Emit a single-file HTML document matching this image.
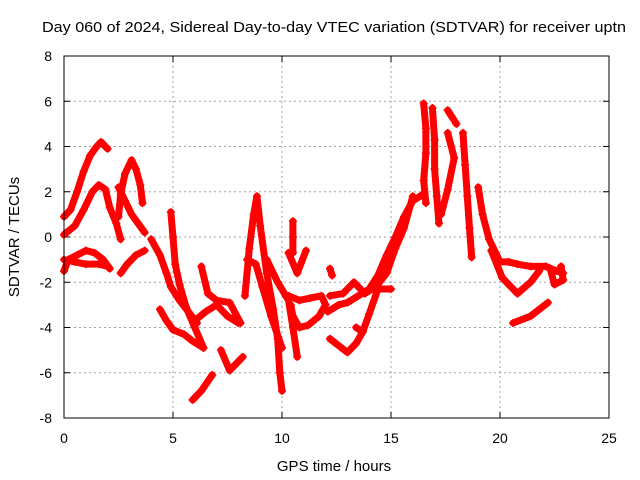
<!DOCTYPE html>
<html><head><meta charset="utf-8"><style>
body{margin:0;background:#fff}
svg{display:block;font-family:"Liberation Sans",sans-serif}
</style></head><body>
<svg id="c" width="640" height="480">
<rect width="640" height="480" fill="#fff"/>
<text x="42" y="32" font-size="15" textLength="584" lengthAdjust="spacingAndGlyphs" fill="#000">Day 060 of 2024, Sidereal Day-to-day VTEC variation (SDTVAR) for receiver uptn</text>
<text transform="translate(19,237) rotate(-90)" text-anchor="middle" font-size="15">SDTVAR / TECUs</text>
<text x="334" y="471" text-anchor="middle" font-size="15">GPS time / hours</text>
<g id="grid"></g>
<g id="ticks"></g>
<g id="marks"></g>
<rect x="64" y="56" width="545" height="362" fill="none" stroke="#000" stroke-width="1"/>
</svg>
<script>
const xTicks=[0,5,10,15,20,25];
const yTicks=[-8,-6,-4,-2,0,2,4,6,8];
const trackA=[[0,0.9],[0.3,1.2],[0.6,2.0],[0.9,2.9],[1.2,3.6],[1.5,4.0],[1.7,4.2],[2.0,3.9]];
const trackB=[[0,0.1],[0.5,0.5],[0.9,1.2],[1.3,2.0],[1.6,2.3],[1.9,2.1],[2.1,1.3],[2.4,0.6],[2.6,-0.1]];
const trackC=[[0,-1.5],[0.2,-1.0],[0.6,-0.8],[1.0,-0.6],[1.4,-0.7],[1.8,-1.0],[2.1,-1.4]];
const trackC2=[[0,-1.0],[0.5,-1.1],[1.0,-1.2],[1.6,-1.2],[2.0,-1.3]];
const trackD=[[2.5,0.9],[2.6,1.9],[2.8,2.8],[3.1,3.4],[3.3,3.0],[3.5,2.3],[3.6,1.5]];
const trackD2=[[2.5,2.2],[2.8,1.6],[3.1,1.0],[3.4,0.6],[3.7,0.2]];
const trackE=[[2.6,-1.6],[2.9,-1.2],[3.3,-0.8],[3.7,-0.6]];
const trackF1=[[4.0,-0.1],[4.4,-0.8],[4.7,-1.6],[4.9,-2.2],[5.3,-2.8],[5.7,-3.3],[6.1,-3.8]];
const trackF2=[[4.9,1.1],[5.0,0.0],[5.1,-1.2],[5.3,-2.1],[5.6,-3.1],[6.0,-4.0],[6.4,-4.9]];
const trackF3=[[4.4,-3.2],[4.7,-3.7],[5.0,-4.1],[5.5,-4.3],[5.9,-4.6],[6.4,-4.9]];
const trackF4=[[6.3,-1.3],[6.6,-2.5],[7.0,-2.8],[7.6,-2.9],[8.1,-3.8]];
const trackF5=[[6.0,-3.7],[6.5,-3.3],[7.0,-3.0],[7.5,-3.5],[8.0,-3.8]];
const trackF6=[[7.2,-5.0],[7.6,-5.9],[8.2,-5.3]];
const trackF7=[[5.9,-7.2],[6.3,-6.8],[6.8,-6.1]];
const trackG1=[[8.3,-2.6],[8.5,-0.5],[8.7,1.0],[8.85,1.8],[9.0,0.5],[9.3,-1.6],[9.6,-3.2],[9.8,-4.5],[9.9,-6.0],[10.0,-6.8]];
const trackG2=[[8.4,-1.0],[8.8,-1.2],[9.1,-2.2],[9.5,-3.5],[10.0,-4.9]];
const trackG3=[[9.3,-1.0],[9.8,-2.0],[10.3,-2.8],[10.5,-4.0],[10.7,-5.3]];
const trackH=[[10.3,-2.6],[10.8,-2.8],[11.3,-2.7],[11.8,-2.6],[12.0,-3.0],[11.7,-3.5],[11.2,-3.9],[10.8,-4.0],[10.5,-3.5],[10.4,-3.0]];
const trackH2=[[10.5,0.7],[10.5,0.0],[10.5,-0.7]];
const trackH3=[[10.3,-0.7],[10.7,-1.6],[11.1,-0.6]];
const trackH4=[[12.2,-1.4],[12.3,-1.7]];
const trackI1=[[12.1,-3.3],[12.6,-3.0],[13.0,-2.9],[13.5,-2.6],[14.0,-2.3],[14.4,-1.7],[14.8,-0.8],[15.2,0.0],[15.6,0.9],[16.0,1.6],[16.5,1.9]];
const trackI2=[[12.2,-2.6],[12.8,-2.5],[13.3,-2.0],[13.8,-2.5],[14.3,-2.2],[14.8,-1.6],[15.2,-0.5],[15.6,0.4],[16.0,1.8]];
const trackI3=[[13.4,-4.0],[13.7,-4.2],[14.0,-3.4],[14.4,-2.3],[15.0,-2.3]];
const trackI4=[[12.2,-4.5],[12.6,-4.8],[13.0,-5.1],[13.4,-4.7],[13.7,-4.2]];
const trackJ1=[[16.5,5.9],[16.6,4.8],[16.6,3.7],[16.5,2.5],[16.6,1.5]];
const trackJ2=[[16.9,5.7],[17.0,4.3],[17.0,3.0],[17.1,1.8],[17.2,0.6]];
const trackJ3=[[17.6,5.6],[18.0,5.0]];
const trackJ4=[[17.3,1.0],[17.6,2.1],[17.9,3.5],[17.6,4.6]];
const trackJ5=[[18.3,4.6],[18.4,3.2],[18.5,1.8],[18.6,0.4],[18.7,-0.9]];
const trackK1=[[19.0,2.2],[19.2,1.0],[19.5,-0.1],[20.0,-1.1],[20.4,-1.1],[20.8,-1.2],[21.4,-1.3],[22.1,-1.3],[22.6,-1.5],[22.9,-1.6]];
const trackK2=[[19.6,-0.6],[20.1,-1.8],[20.8,-2.5],[21.4,-2.0],[21.8,-1.5]];
const trackK3=[[22.3,-1.4],[22.5,-2.1],[22.9,-1.9],[22.8,-1.3]];
const trackK4=[[20.6,-3.8],[21.4,-3.5],[22.2,-2.9]];
const tracks=[trackA,trackB,trackC,trackC2,trackD,trackD2,trackE,trackF1,trackF2,trackF3,trackF4,trackF5,trackF6,trackF7,trackG1,trackG2,trackG3,trackH,trackH2,trackH3,trackH4,trackI1,trackI2,trackI3,trackI4,trackJ1,trackJ2,trackJ3,trackJ4,trackJ5,trackK1,trackK2,trackK3,trackK4];

const NS="http://www.w3.org/2000/svg";
const X0=64,X1=609,Y0=418,Y1=56;
const sx=t=>X0+(t-0)/(25-0)*(X1-X0);
const sy=v=>Y0-(v+8)/16*(Y0-Y1);
const grid=document.getElementById('grid'),ticks=document.getElementById('ticks'),marks=document.getElementById('marks');
function mk(tag,attrs,parent){const e=document.createElementNS(NS,tag);for(const k in attrs)e.setAttribute(k,attrs[k]);parent.appendChild(e);return e;}
xTicks.forEach(t=>{
  const x=sx(t);
  if(t>0&&t<25){const g=mk('line',{x1:x,x2:x,y1:Y1,y2:Y0,stroke:'#a0a0a0','stroke-dasharray':'2,3'},grid);
  
  }
  mk('line',{x1:x,x2:x,y1:Y0,y2:Y0-6,stroke:'#000'},ticks);
  mk('line',{x1:x,x2:x,y1:Y1,y2:Y1+6,stroke:'#000'},ticks);
  const l=mk('text',{x:x,y:Y0+25,'text-anchor':'middle','font-size':'14'},ticks);
  l.textContent=t;
  
  
});
yTicks.forEach(v=>{
  const y=sy(v);
  if(v>-8&&v<8){const g=mk('line',{x1:X0,x2:X1,y1:y,y2:y,stroke:'#a0a0a0','stroke-dasharray':'2,3'},grid);
  
  }
  mk('line',{x1:X0,x2:X0+6,y1:y,y2:y,stroke:'#000'},ticks);
  mk('line',{x1:X1,x2:X1-6,y1:y,y2:y,stroke:'#000'},ticks);
  const l=mk('text',{x:52,y:y+5,'text-anchor':'end','font-size':'14'},ticks);
  l.textContent=v;
  
  
});
tracks.forEach(tr=>{
  const p=mk('polyline',{points:tr.map(d=>sx(d[0])+','+sy(d[1])).join(' '),fill:'none',stroke:'#ff0000','stroke-width':7,'stroke-linejoin':'round','stroke-linecap':'round'},marks);
  
  
  tr.forEach(d=>{
    const x=sx(d[0]),y=sy(d[1]);
    const m=mk('path',{d:`M${x-4},${y}h8M${x},${y-4}v8`,stroke:'#ff0000','stroke-width':1.5},marks);
    
    
  });
});
</script>
</body></html>
